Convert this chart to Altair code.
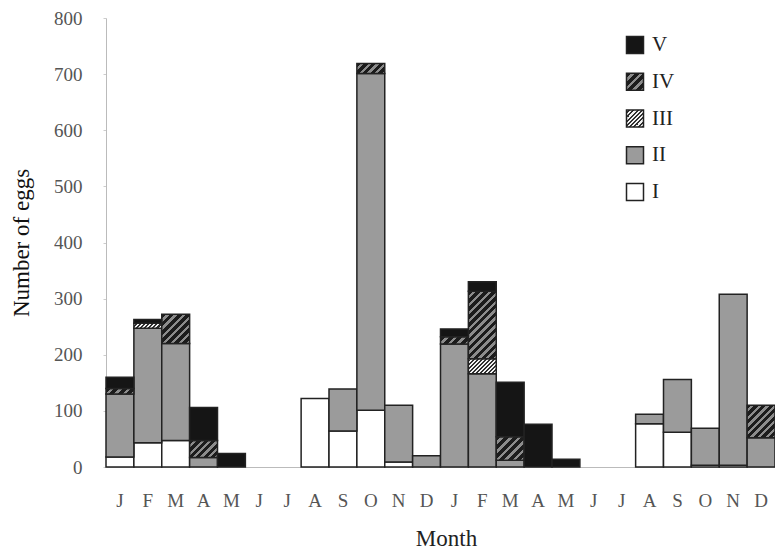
import altair as alt
import pandas as pd

# ---- data ----
month_letters = ["J", "F", "M", "A", "M", "J", "J", "A", "S", "O", "N", "D",
                 "J", "F", "M", "A", "M", "J", "J", "A", "S", "O", "N", "D"]
stage_names = ["I", "II", "III", "IV", "V"]
stage_I   = [18, 43, 47, 0, 0, 0,   0, 122, 64, 101, 9, 0,   0, 0, 0, 0, 0, 0,   0, 77, 62, 3, 3, 0]
stage_II  = [112, 204, 173, 17, 0, 0,   0, 0, 75, 600, 101, 20,   219, 166, 12, 0, 0, 0,   0, 17, 94, 66, 305, 52]
stage_III = [0, 9, 0, 0, 0, 0,   0, 0, 0, 0, 0, 0,   0, 27, 0, 0, 0, 0,   0, 0, 0, 0, 0, 0]
stage_IV  = [10, 0, 52, 30, 0, 0,   0, 0, 0, 18, 0, 0,   13, 120, 42, 0, 0, 0,   0, 0, 0, 0, 0, 58]
stage_V   = [20, 7, 0, 59, 24, 0,   0, 0, 0, 0, 0, 0,   14, 17, 97, 76, 14, 0,   0, 0, 0, 0, 0, 0]
y_ticks = [0, 100, 200, 300, 400, 500, 600, 700, 800]

legend_order = ["V", "IV", "III", "II", "I"]
base_colors = ["#151515", "#2a2a2a", "#777777", "#9b9b9b", "#ffffff"]

PLOT_W, PLOT_H = 669, 449
Y_MAX = 800
BAND = PLOT_W / len(month_letters)
SYM = 17

series = dict(zip(stage_names, [stage_I, stage_II, stage_III, stage_IV, stage_V]))
rows = []
for k, name in enumerate(stage_names):
    for i, v in enumerate(series[name]):
        if v > 0:
            rows.append({"idx": i, "cat": name, "ord": k, "value": v})
df = pd.DataFrame(rows)
legend_df = pd.DataFrame({"cat": legend_order})


def stripes(w, h, period, c1, c2, frac):
    """Diagonal '/' stripes as a linear gradient in bounding-box units."""
    n = max(1, round((w + h) / period))
    a = (w + h) / (w * w + h * h)
    stops = []
    for k in range(n):
        stops += [{"offset": k / n, "color": c1},
                  {"offset": (k + frac) / n, "color": c1},
                  {"offset": (k + frac) / n, "color": c2},
                  {"offset": (k + 1) / n, "color": c2}]
    return {"gradient": "linear", "x1": 0, "y1": 0, "x2": w * a, "y2": h * a, "stops": stops}


def hatch_iv(w, h):
    return stripes(w, h, 8, "#1c1c1c", "#8c8c8c", 0.58)


def dots_iii(w, h):
    return stripes(w, h, 4, "#f2f2f2", "#303030", 0.5)


conds = []
for r in rows:
    if r["cat"] in ("III", "IV"):
        h = r["value"] * PLOT_H / Y_MAX
        grad = hatch_iv(BAND, h) if r["cat"] == "IV" else dots_iii(BAND, h)
        conds.append({"test": f"datum.idx == {r['idx']} && datum.cat == '{r['cat']}'", "value": grad})

legend_conds = [
    {"test": "datum.cat == 'IV'", "value": hatch_iv(SYM, SYM)},
    {"test": "datum.cat == 'III'", "value": dots_iii(SYM, SYM)},
]

label_expr = "[" + ",".join(f"'{m}'" for m in month_letters) + "][datum.value]"
FONT = "Liberation Serif"
fill_scale = alt.Scale(domain=legend_order, range=base_colors)

bars = alt.Chart(df).mark_bar(stroke="#222222", strokeWidth=1.5).encode(
    x=alt.X("idx:O",
            scale=alt.Scale(domain=list(range(len(month_letters))), paddingInner=0, paddingOuter=0),
            axis=alt.Axis(title="Month", labelExpr=label_expr, labelAngle=0, ticks=False,
                          labelPadding=24, labelFontSize=19, labelColor="#555555", labelFont=FONT,
                          domainColor="#bbbbbb", domainWidth=1,
                          titleFont=FONT, titleFontSize=23, titleFontWeight="normal", titleColor="#222222",
                          titleX=340, titleY=78, titleBaseline="alphabetic", titleAlign="center")),
    y=alt.Y("value:Q", stack="zero",
            scale=alt.Scale(domain=[0, Y_MAX], nice=False),
            axis=alt.Axis(title="Number of eggs", values=y_ticks, grid=False,
                          tickSize=3, tickColor="#cccccc", labelPadding=21,
                          labelFontSize=19, labelColor="#555555", labelFont=FONT,
                          domainColor="#bbbbbb",
                          titleFont=FONT, titleFontSize=23, titleFontWeight="normal", titleColor="#111111",
                          titleX=-85, titleY=PLOT_H / 2, titleAngle=-90,
                          titleAlign="center", titleBaseline="middle")),
    fill=alt.Fill("cat:N", scale=fill_scale, condition=conds, legend=None),
    order=alt.Order("ord:Q", sort="ascending"),
)

legend_y = alt.Y("cat:N", scale=alt.Scale(domain=legend_order, range=[27, 174], padding=0), axis=None)

legend_sym = alt.Chart(legend_df).mark_square(size=SYM * SYM, stroke="#222222", strokeWidth=1.5,
                                              opacity=1).encode(
    x=alt.value(529),
    y=legend_y,
    fill=alt.Fill("cat:N", scale=fill_scale, condition=legend_conds, legend=None),
)

legend_txt = alt.Chart(legend_df).mark_text(align="left", baseline="middle", font=FONT,
                                            fontSize=21, color="#222222").encode(
    x=alt.value(546),
    y=legend_y,
    text="cat:N",
)

chart = alt.layer(bars, legend_sym, legend_txt).resolve_scale(y="independent").properties(
    width=PLOT_W, height=PLOT_H,
    autosize="none",
    padding={"left": 98, "top": 10, "right": 0, "bottom": 84},
).configure_view(stroke=None)

chart.save("out.html", embed_options={"renderer": "svg", "actions": False})
